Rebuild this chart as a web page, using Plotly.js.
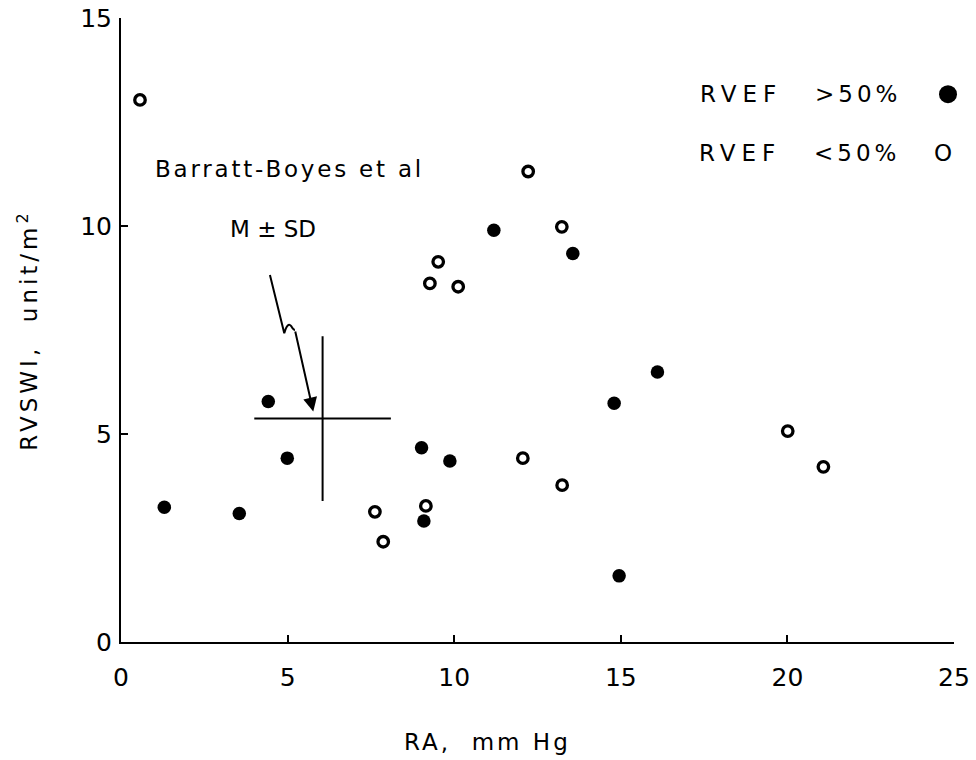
<!DOCTYPE html>
<html><head><meta charset="utf-8">
<script src="https://cdn.plot.ly/plotly-3.0.1.min.js"></script>
<style>html,body{margin:0;padding:0;background:#fff}</style>
</head><body><div id="chart" style="width:976px;height:760px"></div>
<script>
// RVEF > 50% (filled circles)
const filledRA    = [1.3, 3.55, 4.42, 4.99, 9.02, 9.87, 9.09, 11.19, 13.56, 14.8, 16.1, 14.95];
const filledRVSWI = [3.24, 3.09, 5.78, 4.42, 4.67, 4.35, 2.91, 9.9, 9.34, 5.74, 6.49, 1.59];
// RVEF < 50% (open circles)
const openRA      = [0.57, 12.22, 13.23, 9.52, 9.27, 10.12, 12.06, 13.24, 7.62, 9.15, 7.87, 20.01, 21.08];
const openRVSWI   = [13.03, 11.31, 9.98, 9.14, 8.62, 8.54, 4.42, 3.77, 3.13, 3.27, 2.41, 5.07, 4.21];
// Barratt-Boyes et al, mean +/- SD
const bbMeanRA = [6.05], bbMeanRVSWI = [5.37], bbSdRA = [2.05], bbSdRVSWI = [1.98];
// ticks
const xTicks = [0, 5, 10, 15, 20, 25];
const yTicks = [0, 5, 10, 15];

const FONT = 'DejaVu Sans';
const sp = (t, ls) => '<span style="letter-spacing:' + ls + 'px">' + t + '</span>';

const traces = [
  {x: filledRA, y: filledRVSWI, type: 'scatter', mode: 'markers', name: 'RVEF >50%',
   marker: {symbol: 'circle', size: 13.5, color: '#000'}},
  {x: openRA, y: openRVSWI, type: 'scatter', mode: 'markers', name: 'RVEF <50%',
   marker: {symbol: 'circle-open', size: 10.5, color: '#000', line: {width: 3.3, color: '#000'}}},
  {x: bbMeanRA, y: bbMeanRVSWI, type: 'scatter', mode: 'markers', name: 'Barratt-Boyes',
   marker: {size: 1, opacity: 0},
   error_x: {type: 'data', array: bbSdRA, width: 0, thickness: 2, color: '#000'},
   error_y: {type: 'data', array: bbSdRVSWI, width: 0, thickness: 2, color: '#000'}}
];

const ann = (x, y, text, opts) => Object.assign({xref: 'paper', yref: 'paper', x: x, y: y, text: text,
  showarrow: false, xanchor: 'left', yanchor: 'middle', font: {family: FONT, size: 23, color: '#000'}}, opts || {});

const layout = {
  width: 976, height: 760,
  margin: {l: 121, r: 22, t: 18, b: 118},
  paper_bgcolor: '#fff', plot_bgcolor: '#fff',
  showlegend: false,
  font: {family: FONT, color: '#000'},
  xaxis: {range: [0, 25], tickvals: xTicks, ticktext: xTicks.map(String),
    showline: true, linecolor: '#000', linewidth: 2, showgrid: false, zeroline: false,
    ticks: 'inside', ticklen: 7, tickwidth: 2, tickcolor: '#000',
    tickfont: {family: FONT, size: 25, color: '#000'}, ticklabelstandoff: 12},
  yaxis: {range: [0, 15], tickvals: yTicks, ticktext: yTicks.map(String),
    showline: true, linecolor: '#000', linewidth: 2, showgrid: false, zeroline: false,
    ticks: 'inside', ticklen: 7, tickwidth: 2, tickcolor: '#000',
    tickfont: {family: FONT, size: 25, color: '#000'}, ticklabelstandoff: 2},
  annotations: [
    // axis titles
    ann(0.44, -0.16, sp('RA,&nbsp; mm Hg', 3), {xanchor: 'center'}),
    ann(-0.112, 0.5, sp('RVSWI,&nbsp; unit/m<sup>2</sup>', 4), {xanchor: 'center', textangle: -90}),
    // legend
    ann(0.693, 0.878, sp('RVEF', 6)),
    ann(0.8307, 0.878, sp('&gt;50%', 4)),
    ann(0.692, 0.783, sp('RVEF', 6)),
    ann(0.8295, 0.783, sp('&lt;50%', 4)),
    ann(0.987, 0.783, 'O', {xanchor: 'center'}),
    // Barratt-Boyes label
    ann(0.0384, 0.758, sp('Barratt-Boyes et al', 2.8)),
    ann(0.128, 0.662, 'M ± SD'),
    // arrow to mean
    {xref: 'x', yref: 'y', axref: 'x', ayref: 'y', x: 5.77, y: 5.54, ax: 5.22, ay: 7.50,
     text: '', showarrow: true, arrowhead: 2, arrowsize: 1.4, arrowwidth: 2, arrowcolor: '#000', standoff: 0}
  ],
  shapes: [
    // legend filled dot
    {type: 'circle', xref: 'paper', yref: 'paper', xsizemode: 'pixel', ysizemode: 'pixel',
     xanchor: 0.9928, yanchor: 0.878, x0: -9, x1: 9, y0: -9, y1: 9,
     fillcolor: '#000', line: {color: '#000', width: 0}},
    // squiggly arrow tail
    {type: 'path', xref: 'x', yref: 'y',
     path: 'M 4.47,8.82 L 4.90,7.42 Q 5.00,7.72 5.12,7.58 Q 5.18,7.50 5.22,7.50',
     line: {color: '#000', width: 2}}
  ]
};

Plotly.newPlot('chart', traces, layout, {staticPlot: true, displayModeBar: false});
</script></body></html>
